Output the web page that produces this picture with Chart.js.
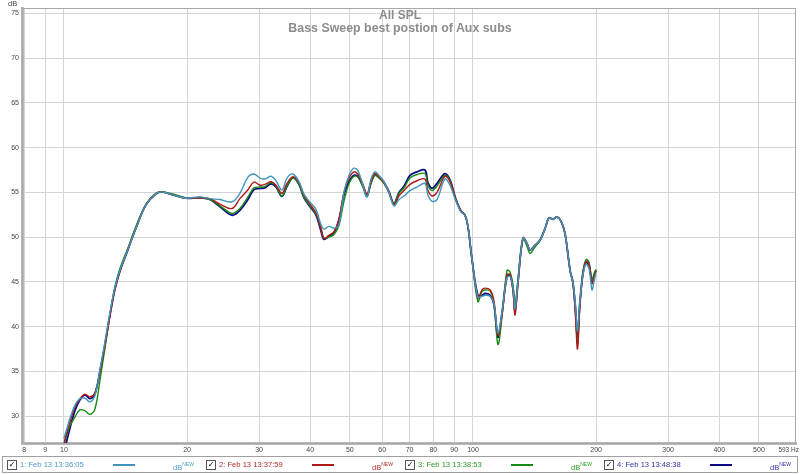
<!DOCTYPE html>
<html>
<head>
<meta charset="utf-8">
<script src="https://cdn.jsdelivr.net/npm/chart.js@4.4.1/dist/chart.umd.min.js"></script>
<style>
  body { margin: 0; background: #fff; font-family: "Liberation Sans", Arial, sans-serif; }
  #wrap { position: relative; width: 800px; height: 474px; overflow: hidden; }
  #plot { position: absolute; left: 0; top: 0; width: 800px; height: 456px; }
  .ttl { position: absolute; left: 0; width: 800px; text-align: center; color: #8c8c8c; font-weight: bold; }
  #unit { position: absolute; left: 8px; top: -1px; font-size: 7.5px; color: #444; }
  #hz { position: absolute; right: 1px; top: 446px; font-size: 6.5px; color: #444; white-space: nowrap;
        font-family: "Liberation Sans Narrow", "Liberation Sans", sans-serif; }
  #legend { position: absolute; left: 2px; top: 456px; width: 794px; height: 15px; border: 1px solid #a0a0a0; }
  .item { position: absolute; top: 0; height: 15px; font-size: 7.6px; line-height: 15px; }
  .chk { position: absolute; top: 3px; width: 8px; height: 8px; border: 1px solid #555; background: #fff;
         font-size: 8px; line-height: 8px; text-align: center; color: #000; font-family: "DejaVu Sans"; }
  .swatch { position: absolute; top: 7px; width: 22px; height: 2px; }
  .db { position: absolute; top: 0; font-size: 7.5px; }
  .db sup { font-size: 5px; vertical-align: 4px; }
</style>
</head>
<body>
<div id="wrap">
  <div id="plot"><canvas id="chart"></canvas></div>
  <div class="ttl" style="top:8px;font-size:12px;">All SPL</div>
  <div class="ttl" style="top:21px;font-size:12.4px;">Bass Sweep best postion of Aux subs</div>
  <div id="unit">dB</div>
  <div id="hz">593 Hz</div>
  <div id="legend"></div>
</div>
<script>
// frekvence (Hz) spolecne pro vsechny mereni
const freqs = [10.0, 10.06, 10.17, 10.34, 10.64, 10.94, 11.26, 11.58, 11.91, 12.25,
  12.6, 12.96, 13.33, 13.71, 14.34, 15.0, 15.87, 16.79, 17.4, 18.37,
  19.86, 21.5, 22.75, 24.07, 25.76, 26.93, 28.18, 29.14, 30.15, 31.0,
  32.08, 33.0, 34.12, 35.1, 36.3, 37.55, 38.62, 39.95, 41.32, 42.5,
  43.22, 44.45, 45.72, 47.02, 48.37, 49.77, 51.17, 52.35, 53.83, 55.07,
  56.33, 57.6, 58.9, 60.6, 62.3, 64.1, 65.94, 67.81, 70.15, 72.97,
  76.3, 77.6, 79.4, 81.66, 85.4, 87.87, 90.87, 93.5, 95.6, 97.2,
  99.4, 102.8, 105.2, 107.0, 110.1, 112.5, 115.1, 117.8, 121.1, 123.2,
  125.3, 126.7, 128.8, 132.5, 135.5, 137.9, 141.8, 145.8, 150.0, 153.4,
  156.9, 160.5, 164.1, 167.9, 172.7, 175.6, 178.1, 180.1, 182.6, 185.8,
  188.9, 192.1, 195.4, 197.6, 199.8];

const spl1 = [27.5, 27.9, 28.6, 29.7, 31.2, 31.95, 32.0, 31.6, 32.3, 35.2,
  38.3, 41.6, 44.4, 46.3, 48.6, 51.0, 53.6, 54.85, 55.05, 54.75,
  54.35, 54.5, 54.3, 54.2, 53.95, 54.9, 56.7, 57.05, 56.6, 56.5,
  56.8, 56.3, 55.25, 56.6, 57.05, 56.2, 54.8, 53.9, 53.1, 51.4,
  50.9, 51.2, 51.0, 51.4, 55.0, 56.9, 57.7, 57.4, 55.8, 54.5,
  56.5, 57.3, 56.9, 56.2, 55.0, 53.5, 54.2, 54.6, 55.2, 55.6,
  56.0, 54.7, 54.0, 54.2, 56.5, 55.8, 54.0, 52.8, 52.45, 51.2,
  47.6, 43.3, 43.4, 43.5, 43.4, 42.6, 39.3, 41.7, 45.5, 45.6,
  44.3, 42.0, 45.0, 49.9, 49.3, 48.55, 49.1, 49.66, 50.95, 52.15,
  52.0, 52.25, 51.8, 50.4, 46.3, 44.9, 42.3, 39.5, 43.0, 45.8,
  47.0, 46.5, 44.1, 45.0, 46.0];

const spl2 = [26.8, 27.4, 28.2, 29.3, 31.0, 31.9, 32.45, 32.15, 32.6, 34.9,
  37.9, 41.2, 44.2, 46.2, 48.6, 51.0, 53.6, 54.85, 55.05, 54.75,
  54.35, 54.4, 54.3, 53.7, 53.2, 54.3, 55.3, 56.15, 55.8, 55.9,
  56.2, 55.8, 54.9, 56.0, 56.75, 56.1, 54.7, 53.7, 52.7, 51.0,
  49.85, 50.2, 50.6, 52.0, 55.0, 56.6, 57.3, 57.0, 55.9, 54.8,
  56.2, 57.1, 56.75, 56.1, 55.0, 53.6, 54.6, 55.2, 55.9, 56.3,
  56.5, 55.2, 54.6, 55.0, 56.8, 56.2, 54.1, 52.9, 52.45, 51.2,
  47.6, 43.2, 44.1, 44.3, 44.1, 42.9, 39.0, 41.4, 45.8, 45.8,
  43.9, 41.3, 44.7, 49.9, 49.3, 48.55, 49.1, 49.66, 50.95, 52.15,
  52.0, 52.25, 51.8, 50.4, 46.3, 44.9, 41.0, 37.5, 42.4, 46.0,
  47.3, 47.0, 44.8, 45.5, 46.2];

const spl3 = [26.4, 27.2, 27.9, 28.9, 29.9, 30.7, 30.6, 30.2, 30.8, 34.0,
  37.6, 41.3, 44.5, 46.5, 48.8, 51.2, 53.7, 54.9, 55.05, 54.85,
  54.4, 54.4, 54.2, 53.5, 52.65, 53.2, 54.5, 55.5, 55.6, 55.65,
  56.1, 55.7, 54.6, 55.7, 56.6, 55.9, 54.4, 53.5, 52.6, 51.0,
  49.9, 50.0, 50.3, 51.3, 54.0, 56.0, 56.8, 56.7, 55.6, 54.5,
  56.0, 56.9, 56.6, 56.0, 55.0, 53.7, 54.9, 55.5, 56.6, 57.0,
  57.1, 55.8, 55.2, 55.7, 56.9, 56.3, 54.2, 52.9, 52.45, 51.2,
  47.6, 42.8, 43.9, 44.1, 44.0, 42.6, 38.0, 41.2, 46.3, 46.1,
  44.6, 42.2, 45.2, 49.9, 49.0, 48.2, 48.9, 49.6, 50.95, 52.15,
  52.0, 52.25, 51.8, 50.4, 46.3, 44.7, 41.5, 38.1, 42.6, 46.2,
  47.5, 47.2, 45.1, 45.9, 46.4];

const spl4 = [25.8, 26.4, 27.3, 28.6, 30.6, 31.8, 32.35, 31.95, 32.5, 35.0,
  38.0, 41.3, 44.2, 46.2, 48.6, 51.0, 53.6, 54.85, 55.05, 54.75,
  54.35, 54.4, 54.2, 53.4, 52.45, 53.0, 54.2, 55.3, 55.45, 55.5,
  55.95, 55.6, 54.55, 55.65, 56.65, 55.9, 54.4, 53.4, 52.5, 50.7,
  49.75, 50.1, 50.5, 51.9, 54.7, 56.2, 56.9, 56.75, 55.7, 54.7,
  56.1, 57.0, 56.7, 56.1, 55.1, 53.75, 55.0, 55.7, 56.9, 57.3,
  57.5, 56.1, 55.45, 56.0, 57.1, 56.4, 54.2, 52.9, 52.45, 51.2,
  47.6, 43.5, 43.5, 43.7, 43.5, 42.5, 38.8, 41.6, 45.6, 45.75,
  44.2, 41.8, 45.0, 49.9, 49.3, 48.55, 49.1, 49.66, 50.95, 52.15,
  52.0, 52.25, 51.8, 50.4, 46.3, 44.9, 42.0, 38.9, 42.8, 46.0,
  47.2, 46.9, 45.0, 45.7, 46.3];

const names = ["1: Feb 13 13:36:05", "2: Feb 13 13:37:59", "3: Feb 13 13:38:53", "4: Feb 13 13:48:38"];
const lineColors = ["#3f95bd", "#b01818", "#168a16", "#0a0a82"];
const textColors = ["#4d9bc8", "#b02a2a", "#2a9a2a", "#3333a8"];

const xTicks = [8, 9, 10, 20, 30, 40, 50, 60, 70, 80, 90, 100, 200, 300, 400, 500];
const xTickLabels = ["8", "9", "10", "20", "30", "40", "50", "60", "70", "80", "90", "100", "200", "300", "400", "500"];
const yTicks = [30, 35, 40, 45, 50, 55, 60, 65, 70, 75];

const series = [spl1, spl2, spl3, spl4];

// ramecek kolem grafu
const frame = {
  id: "frame",
  beforeDatasetsDraw(chart) {
    const a = chart.chartArea;
    const c = chart.ctx;
    c.save();
    c.strokeStyle = "#a8a8a8";
    c.lineWidth = 1;
    c.strokeRect(a.left + 0.5, a.top + 0.5, a.right - a.left - 1, a.bottom - a.top);
    c.restore();
  },
};

const datasets = series.map((vals, i) => ({
  label: names[i],
  data: freqs.map((f, j) => ({ x: f, y: vals[j] })),
  borderColor: lineColors[i],
  backgroundColor: lineColors[i],
  borderWidth: i === 3 ? 1.8 : 1.4,
  pointRadius: 0,
  tension: 0.35,
  fill: false,
}));

new Chart(document.getElementById("chart"), {
  type: "line",
  data: { datasets },
  plugins: [frame],
  options: {
    responsive: true,
    maintainAspectRatio: false,
    animation: false,
    events: [],
    layout: { autoPadding: false, padding: { top: 8, right: 4, left: 0, bottom: 0 } },
    plugins: { legend: { display: false }, tooltip: { enabled: false } },
    scales: {
      x: {
        type: "logarithmic",
        min: 7.9,
        max: 616,
        afterBuildTicks: (axis) => { axis.ticks = xTicks.map((v) => ({ value: v })); },
        afterFit: (axis) => {
          axis.height = 13;
          axis.paddingLeft = 0;
          axis.paddingRight = 0;
        },
        ticks: {
          autoSkip: false,
          maxRotation: 0,
          padding: 3,
          color: "#444",
          font: { family: "Liberation Sans", size: 7 },
          callback: (v, i) => xTickLabels[i],
        },
        grid: { drawTicks: false, color: "#d4d4d4" },
        border: { color: "#b8b8b8", width: 3 },
      },
      y: {
        min: 27,
        max: 75.6,
        afterBuildTicks: (axis) => { axis.ticks = yTicks.map((v) => ({ value: v })); },
        afterFit: (axis) => {
          axis.width = 22;
          axis.paddingTop = 0;
          axis.paddingBottom = 0;
        },
        ticks: {
          padding: 3,
          color: "#444",
          font: { family: "Liberation Sans", size: 7 },
        },
        grid: { drawTicks: false, color: "#d4d4d4" },
        border: { color: "#b8b8b8", width: 3 },
      },
    },
  },
});

// legenda pod grafem
const legendX = [4, 203, 402, 601];
const legend = document.getElementById("legend");
names.forEach((name, i) => {
  const it = document.createElement("div");
  it.className = "item";
  it.style.left = legendX[i] + "px";
  it.style.width = "195px";
  it.innerHTML =
    '<span class="chk">\u2713</span>' +
    '<span style="position:absolute;left:13px;color:' + textColors[i] + '">' + name + "</span>" +
    '<span class="swatch" style="left:106px;background:' + lineColors[i] + '"></span>' +
    '<span class="db" style="left:166px;color:' + textColors[i] + '">dB<sup>NEW</sup></span>';
  legend.appendChild(it);
});
</script>
</body>
</html>
